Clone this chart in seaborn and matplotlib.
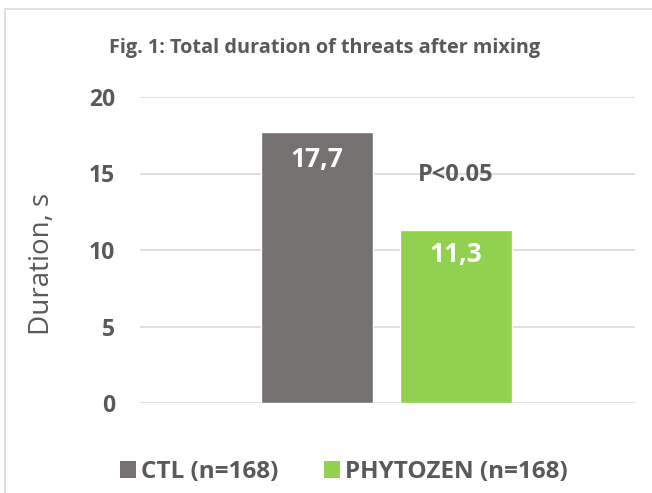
import matplotlib
matplotlib.use("Agg")
import matplotlib.pyplot as plt
import seaborn as sns
import pandas as pd
from matplotlib.patches import Rectangle, Patch

groups = ["CTL (n=168)", "PHYTOZEN (n=168)"]
values = [17.7, 11.3]
value_labels = ["17,7", "11,3"]
colors = ["#767171", "#92D050"]
yticks = [0, 5, 10, 15, 20]

sns.set_theme(style="white")
plt.rcParams['font.family'] = ['Open Sans', 'DejaVu Sans']

W, H = 652, 493
fig = plt.figure(figsize=(W/100, H/100), dpi=100)
ax = fig.add_axes([140/W, 1-403/H, (635-140)/W, (403-97)/H])

df = pd.DataFrame({"group": groups, "value": values})
sns.barplot(data=df, x="group", y="value", hue="group", palette=colors,
            width=0.8, ax=ax, legend=False, saturation=1, zorder=3)

ax.set_ylim(0, 20)
ax.set_xlim(-1.273, 2.288)
ax.set_yticks(yticks)
ax.set_yticklabels([str(t) for t in yticks], fontsize=16.5, fontweight="bold", color="#595959")
ax.tick_params(axis="y", length=0, pad=18)
ax.set_xticks([])
ax.set_xlabel("")
ax.set_ylabel("Duration, s", fontsize=20, color="#595959")
ax.yaxis.label.set_va("center")
ax.yaxis.set_label_coords((42-140)/495, 0.454)
for s in ax.spines.values():
    s.set_visible(False)
ax.grid(axis="y", color="#d9d9d9", lw=1.2, zorder=0)

label_y = [15.9, 9.7]
for i, lab in enumerate(value_labels):
    ax.text(i, label_y[i], lab, ha="center", va="center", color="white",
            fontsize=19, fontweight="bold", zorder=5)
ax.text(1, 14.9, "P<0.05", ha="center", va="center", color="#595959",
        fontsize=17, fontweight="bold", zorder=5)

fig.text(325/W, 1-48/H, "Fig. 1: Total duration of threats after mixing",
         ha="center", va="center", fontsize=14.3, fontweight="bold", color="#595959")

handles = [Patch(facecolor=c, edgecolor="none") for c in colors]
leg = fig.legend(handles, groups, loc="center", bbox_to_anchor=(344/W, 1-472/H),
                 ncol=2, frameon=False, fontsize=17.5, handlelength=0.65, handleheight=0.65,
                 handletextpad=0.2, columnspacing=1.9)
for t in leg.get_texts():
    t.set_fontweight("bold")
    t.set_color("#595959")

fig.patches.append(Rectangle((5/W, -0.1), 1.1, 1-9/H+0.1, transform=fig.transFigure,
                             fill=False, edgecolor="#d9d9d9", lw=1.2))

fig.savefig("out.png", dpi=100)
